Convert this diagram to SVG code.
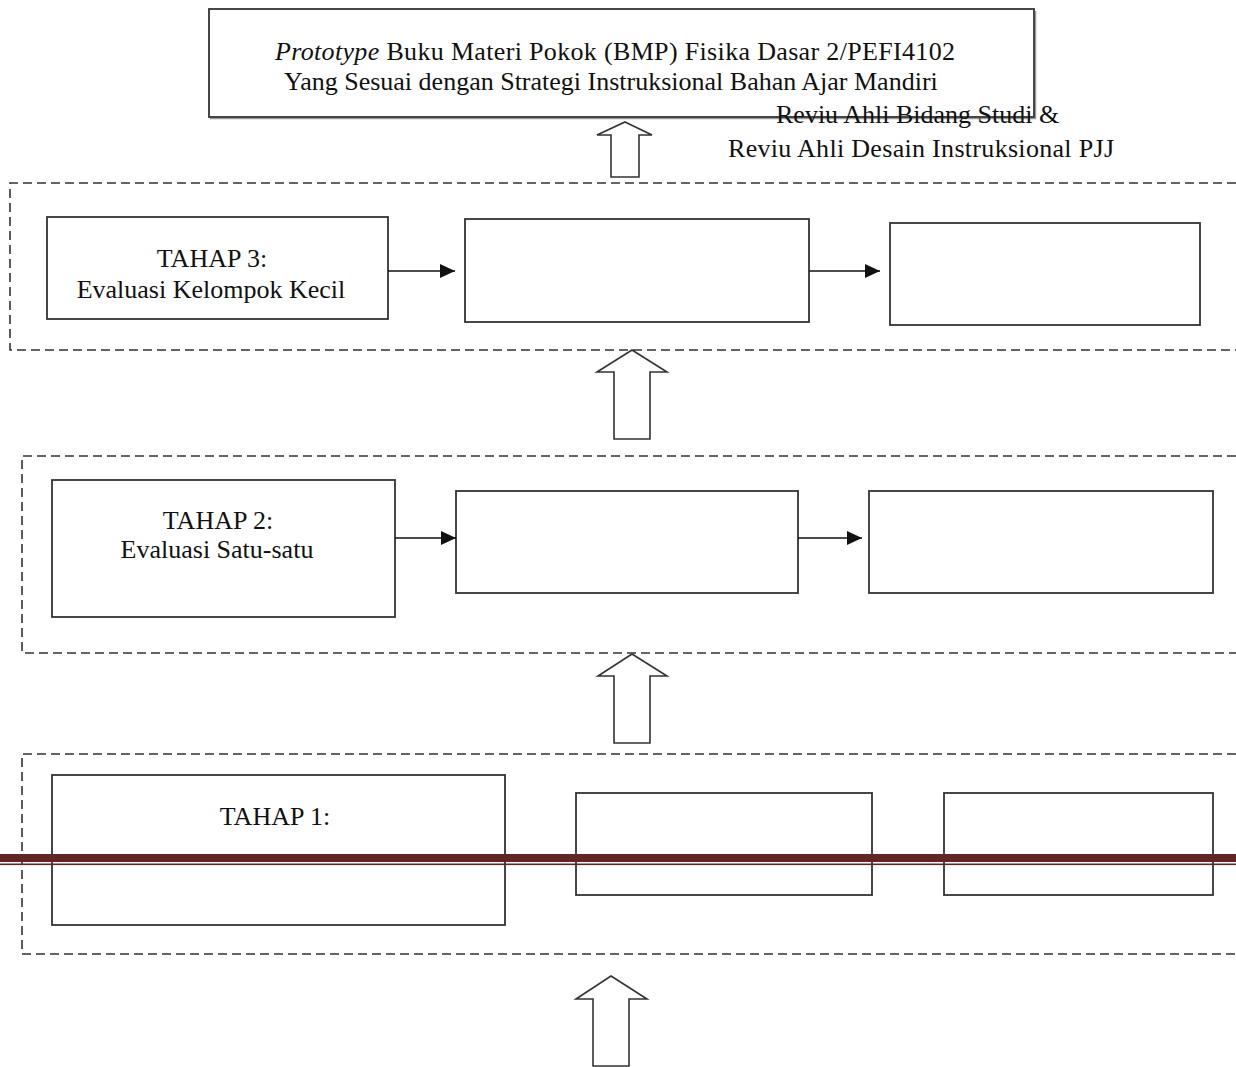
<svg xmlns="http://www.w3.org/2000/svg" width="1236" height="1067" viewBox="0 0 1236 1067">
<style>
  text { font-family: "Liberation Serif", "Times New Roman", serif; font-size: 26px; fill: #111; }
  .box { fill: #fff; stroke: #333; stroke-width: 1.8; }
  .shadow { fill: none; stroke: #9a9a9a; stroke-width: 1.5; }
  .cont { fill: none; stroke: #333; stroke-width: 1.6; stroke-dasharray: 9 5; }
  .flow { stroke: #111; stroke-width: 1.6; fill: none; }
  .block { fill: #fff; stroke: #333; stroke-width: 1.6; stroke-linejoin: miter; }
  .mid { text-anchor: middle; }
</style>
<defs>
  <marker id="ah" markerUnits="userSpaceOnUse" markerWidth="16" markerHeight="14" refX="15" refY="7" orient="auto">
    <path d="M0,0 L15,7 L0,14 Z" fill="#111"/>
  </marker>
</defs>
<rect width="1236" height="1067" fill="#fff"/>

<g id="containers">
  <path id="stage3-frame" class="cont" d="M1236,183 H10 V350 H1236"/>
  <path id="stage2-frame" class="cont" d="M1236,456 H22 V653 H1236"/>
  <path id="stage1-frame" class="cont" d="M1236,754 H22 V954 H1236"/>
</g>

<g id="prototype">
  <path class="shadow" d="M1035.5,11 V118.5 H210"/>
  <rect class="box" x="209" y="9" width="825" height="108"/>
  <text x="275" y="60" textLength="680" lengthAdjust="spacing"><tspan font-style="italic">Prototype</tspan> Buku Materi Pokok (BMP) Fisika Dasar 2/PEFI4102</text>
  <text x="284" y="90">Yang Sesuai dengan Strategi Instruksional Bahan Ajar Mandiri</text>
</g>

<g id="review-label">
  <text x="776" y="123">Reviu Ahli Bidang Studi &amp;</text>
  <text x="728" y="157" textLength="386" lengthAdjust="spacing">Reviu Ahli Desain Instruksional PJJ</text>
</g>

<g id="stage3">
  <rect class="box" x="47" y="217" width="341" height="102"/>
  <text class="mid" x="212" y="267">TAHAP 3:</text>
  <text class="mid" x="211" y="298">Evaluasi Kelompok Kecil</text>
</g>
<g id="stage3-b"><rect class="box" x="465" y="219" width="344" height="103"/></g>
<g id="stage3-c"><rect class="box" x="890" y="223" width="310" height="102"/></g>

<g id="stage2">
  <rect class="box" x="52" y="480" width="343" height="137"/>
  <text class="mid" x="218" y="529">TAHAP 2:</text>
  <text class="mid" x="217" y="558">Evaluasi Satu-satu</text>
</g>
<g id="stage2-b"><rect class="box" x="456" y="491" width="342" height="102"/></g>
<g id="stage2-c"><rect class="box" x="869" y="491" width="344" height="102"/></g>

<g id="stage1">
  <rect class="box" x="52" y="775" width="453" height="150"/>
  <text class="mid" x="275" y="825">TAHAP 1:</text>
</g>
<g id="stage1-b"><rect class="box" x="576" y="793" width="296" height="102"/></g>
<g id="stage1-c"><rect class="box" x="944" y="793" width="269" height="102"/></g>

<g id="connectors">
  <line class="flow" x1="388" y1="271" x2="455" y2="271" marker-end="url(#ah)"/>
  <line class="flow" x1="809" y1="271" x2="880" y2="271" marker-end="url(#ah)"/>
  <line class="flow" x1="395" y1="538" x2="456" y2="538" marker-end="url(#ah)"/>
  <line class="flow" x1="798" y1="538" x2="862" y2="538" marker-end="url(#ah)"/>
  <polygon class="block" points="625,122 652,135 639,135 639,177 611,177 611,135 597,135"/>
  <polygon class="block" points="632,350 667,372 650,372 650,439 614,439 614,372 597,372"/>
  <polygon class="block" points="632,654 667,676 650,676 650,743 614,743 614,676 598,676"/>
  <polygon class="block" points="611,976 647,999 629,999 629,1066 593,1066 593,999 576,999"/>
</g>

<g id="page-rule">
  <rect x="0" y="854" width="1236" height="8" fill="#632523"/>
  <rect x="0" y="863.5" width="1236" height="1.6" fill="#632523"/>
</g>
</svg>
